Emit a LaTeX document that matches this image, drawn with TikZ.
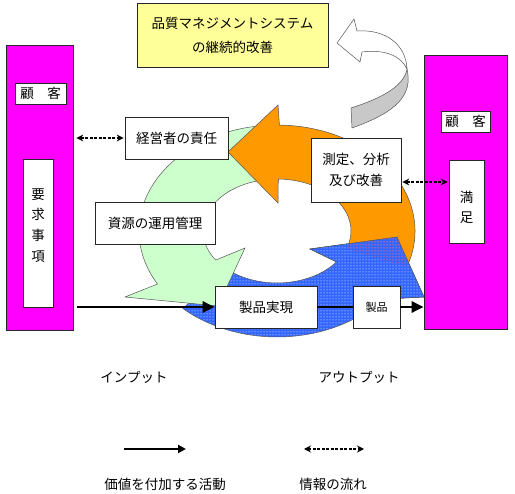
\documentclass[tikz,border=0pt]{standalone}
\usepackage{fontspec}
\setmainfont{Noto Sans CJK JP}
\usetikzlibrary{arrows.meta,patterns,calc}
\definecolor{mag}{HTML}{FF00FF}
\definecolor{ylw}{HTML}{FFFF99}
\definecolor{grn}{HTML}{CCFFCC}
\definecolor{org}{HTML}{FF9900}
\definecolor{blu}{HTML}{3366FF}
\definecolor{gry}{HTML}{C8C8C8}
\definecolor{edgec}{HTML}{555555}
\begin{document}
\begin{tikzpicture}[x=1pt,y=-1pt,
  box/.style={draw=black!85, line width=0.7pt, fill=white, inner sep=0pt, align=center, font=\fontsize{13.5}{16}\selectfont},
  cust/.style={draw=black!85, line width=0.7pt, fill=mag, inner sep=0pt},
  lbl/.style={inner sep=0pt, align=center, font=\fontsize{13.5}{16}\selectfont},
  flow/.style={line width=2.8pt, -{Triangle[length=12pt,width=11pt]}},
  flowline/.style={line width=2.8pt},
  legflow/.style={line width=2.4pt, -{Triangle[length=8pt,width=8pt]}},
  info/.style={line width=1.2pt, dash pattern=on 3pt off 1.5pt, {Stealth[length=7pt,width=7pt]}-{Stealth[length=7pt,width=7pt]}},
  ring/.style={draw=edgec, line width=0.5pt}
]
\useasboundingbox (0,0) rectangle (515,494);

% improvement arrow (grey / white ribbon)
\draw[ring, fill=white] (407,69) .. controls (401,56) and (385,49) .. (362,52) -- (360,62) -- (337,43) -- (354,19) -- (357,31) .. controls (385,29) and (406,44) .. (407,69) -- cycle;
\draw[ring, fill=gry] (407,69) .. controls (413,95) and (397,112) .. (352,128) -- (351,108) .. controls (376,100) and (404,88) .. (407,69) -- cycle;

% blue arrow (product realization)
\path[fill=blu, postaction={pattern=dots, pattern color=white}, postaction={ring}]
  (182.9,308.5) arc[start angle=133, end angle=40, x radius=138, y radius=106]
  -- (424,297) -- (397,237) -- (310,249) -- (336.5,261.9)
  arc[start angle=36.5, end angle=133, x radius=74, y radius=52] -- cycle;

% green arrow (resource management)
\draw[ring, fill=grn]
  (272.2,125.1) arc[start angle=268, end angle=150, x radius=138, y radius=106]
  -- (125,297) -- (218,306) -- (245,248) -- (215.7,260.1)
  arc[start angle=146, end angle=268, x radius=74, y radius=52] -- cycle;

% orange arrow (measurement)
\draw[ring, fill=org]
  (406.7,267.3) arc[start angle=20, end angle=-89, x radius=138, y radius=106]
  -- (278,105) -- (228,152) -- (278,203) -- (278.3,179)
  arc[start angle=-89, end angle=20, x radius=74, y radius=52] -- cycle;

% blue arrow head on top of orange tail
\fill[blu] (382.7,299.1) -- (424,297) -- (397,237) -- (310,249) -- (336.5,261.9) -- cycle;
\fill[pattern=dots, pattern color=white] (382.7,299.1) -- (424,297) -- (397,237) -- (310,249) -- (336.5,261.9) -- cycle;
\begin{scope}
  \clip (406.7,267.3) arc[start angle=20, end angle=-89, x radius=138, y radius=106]
  -- (278,105) -- (228,152) -- (278,203) -- (278.3,179)
  arc[start angle=-89, end angle=20, x radius=74, y radius=52] -- cycle;
  \fill[pattern=dots, pattern color=red] (382.7,299.1) -- (424,297) -- (397,237) -- (310,249) -- (336.5,261.9) -- cycle;
\end{scope}
\draw[ring] (382.7,299.1) -- (424,297) -- (397,237) -- (310,249) -- (336.5,261.9);

% title box
\node[box, fill=ylw, minimum width=191pt, minimum height=64pt] (qms) at (232.5,35) {品質マネジメントシステム\\[8pt]の継続的改善};

% customers
\node[cust, minimum width=67pt, minimum height=285pt] (lcust) at (39.5,187.5) {};
\node[box, minimum width=51pt, minimum height=21pt] (lkk) at (40.5,93.5) {顧　客};
\node[box, minimum width=30pt, minimum height=148pt] (req) at (38,233) {};
\node[lbl, font=\fontsize{13.5}{20.7}\selectfont] (reqtxt) at (38,225.5) {要\\求\\事\\項};

\node[cust, minimum width=83pt, minimum height=274pt] (rcust) at (465.5,192) {};
\node[box, minimum width=49pt, minimum height=21pt] (rkk) at (465.5,121.5) {顧　客};
\node[box, minimum width=35pt, minimum height=83pt] (sat) at (466.5,201.5) {};
\node[lbl, font=\fontsize{13.5}{20}\selectfont] (sattxt) at (466.5,207.5) {満\\足};

% process boxes
\node[box, minimum width=103pt, minimum height=42pt] (mgmt) at (176.5,138) {経営者の責任};
\node[box, minimum width=120pt, minimum height=42pt] (res) at (155,223) {資源の運用管理};
\node[box, minimum width=90pt, minimum height=64pt] (meas) at (356,170) {測定、分析\\[5pt]及び改善};
\node[box, minimum width=102pt, minimum height=42pt] (real) at (266,307) {製品実現};
\node[box, minimum width=47pt, minimum height=42pt, font=\fontsize{11}{13}\selectfont] (prod) at (376.5,307) {製品};

% connectors
\draw[info, shorten <=3pt, shorten >=1pt] (lcust.east |- mgmt.west) -- (mgmt.west);
\coordinate (measpt) at ($(meas.east)+(0,12)$);
\draw[info, shorten <=1pt, shorten >=1pt] (measpt) -- (sat.west |- measpt);
\draw[flow, shorten <=4pt] (lcust.east |- real.west) -- (real.west);
\draw[flowline] (real.east) -- (prod.west);
\draw[flow] (prod.east) -- (rcust.west |- prod.east);

% labels
\node[lbl] (inp) at (134,377) {インプット};
\node[lbl] (outp) at (359,377) {アウトプット};

% legend
\coordinate (la1) at (124,449);
\coordinate (la2) at (186,449);
\coordinate (lb1) at (304,449);
\coordinate (lb2) at (364,449);
\draw[legflow] (la1) -- (la2);
\draw[info] (lb1) -- (lb2);
\node[lbl] (lega) at (165,484) {価値を付加する活動};
\node[lbl] (legb) at (333,484) {情報の流れ};
\end{tikzpicture}
\end{document}
